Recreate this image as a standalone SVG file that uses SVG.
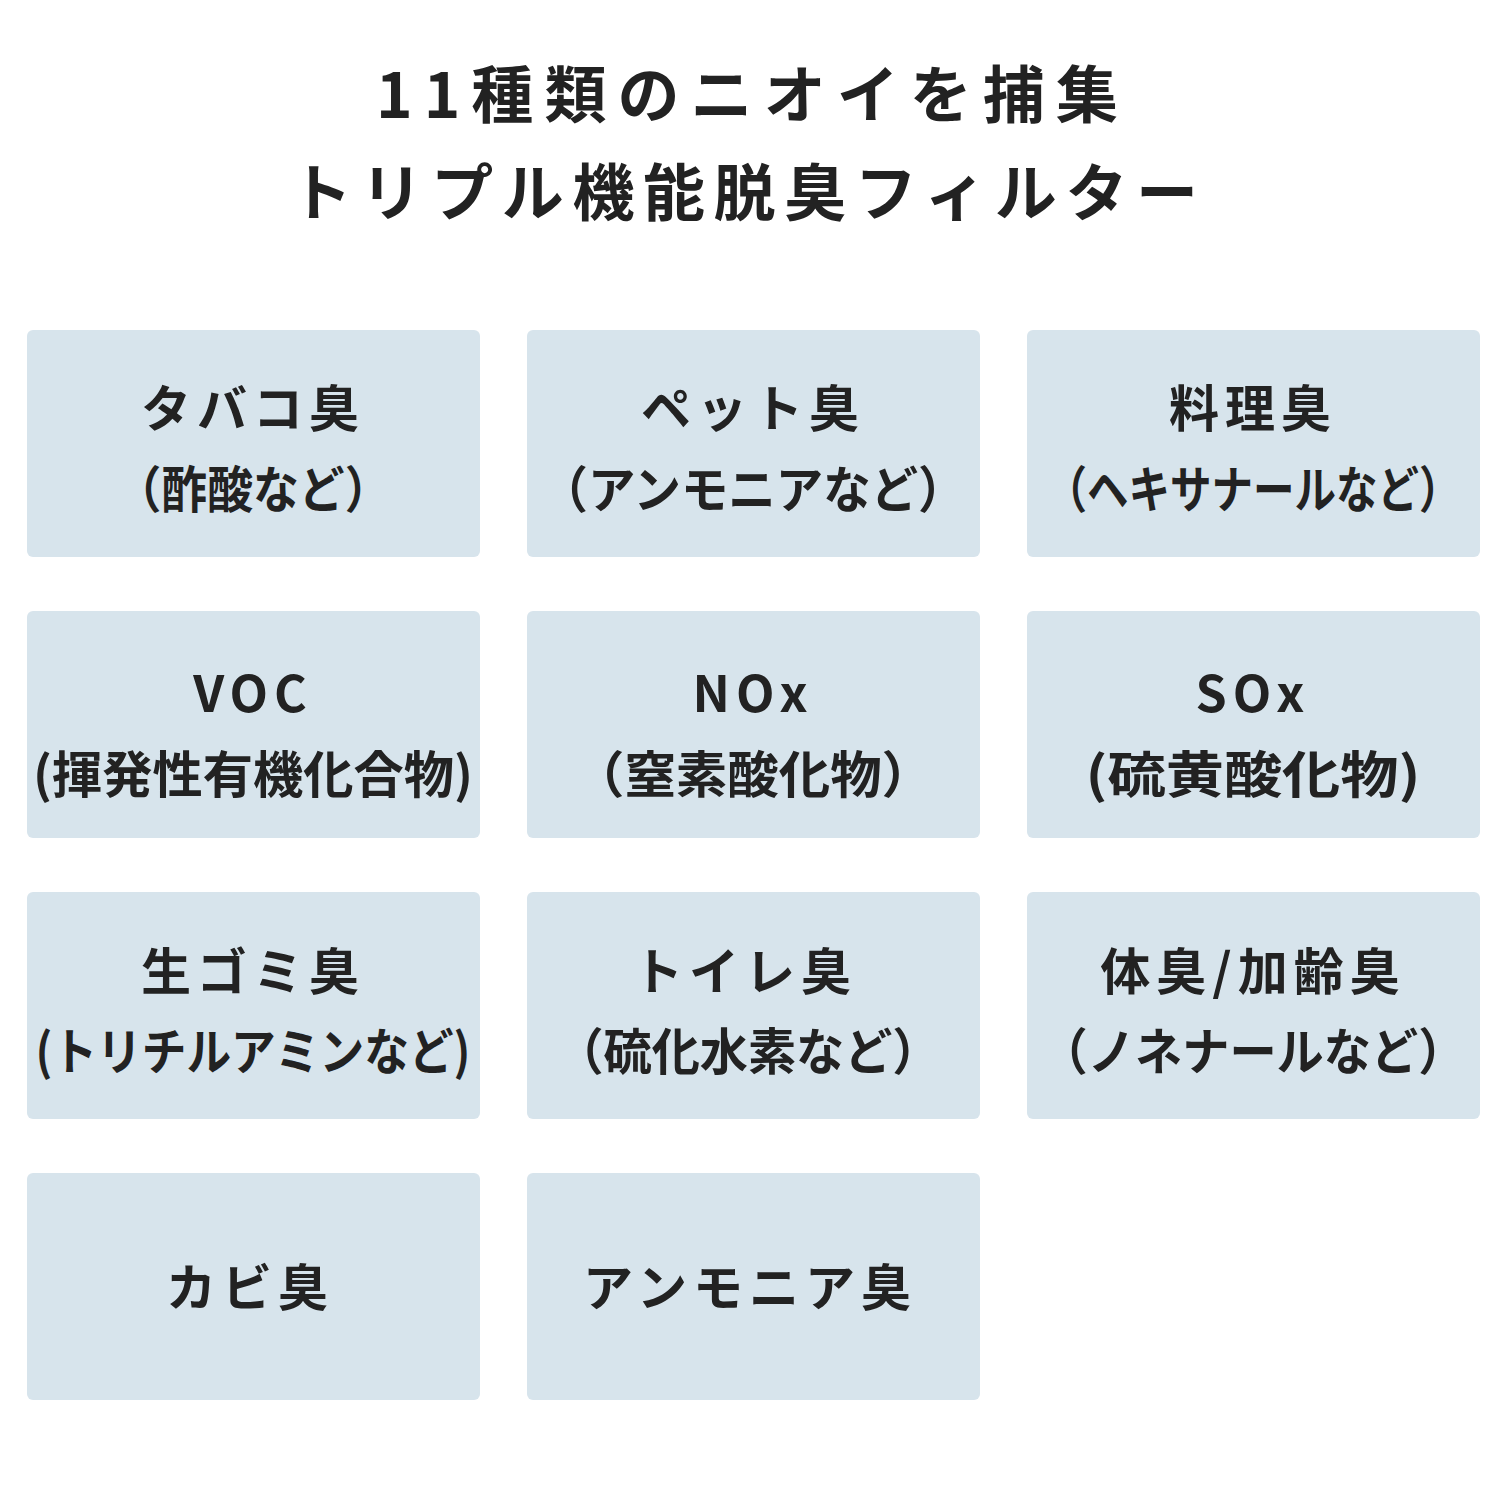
<svg xmlns="http://www.w3.org/2000/svg" width="1500" height="1500" viewBox="0 0 1500 1500">
<style>
.b{fill:#d7e4ec}
text{font-family:"Noto Sans CJK JP","Noto Sans",sans-serif;font-weight:bold;fill:#222;text-anchor:middle;font-size:50px}
.h{letter-spacing:6px}
.t{font-size:62px}
</style>
<rect width="1500" height="1500" fill="#fff"/>
<g id="title"><text class="t" x="747" y="118" textLength="742" lengthAdjust="spacing">11種類のニオイを捕集</text><text class="t" x="744" y="216" textLength="908" lengthAdjust="spacing">トリプル機能脱臭フィルター</text></g>
<g id="n1"><rect class="b" x="27" y="330" width="453" height="227" rx="6"/><text class="h" x="253" y="427">タバコ臭</text><text x="253" y="508" textLength="275" lengthAdjust="spacingAndGlyphs">（酢酸など）</text></g>
<g id="n2"><rect class="b" x="527" y="330" width="453" height="227" rx="6"/><text class="h" x="753" y="427">ペット臭</text><text x="753" y="508" textLength="425" lengthAdjust="spacingAndGlyphs">（アンモニアなど）</text></g>
<g id="n3"><rect class="b" x="1027" y="330" width="453" height="227" rx="6"/><text class="h" x="1253" y="427">料理臭</text><text x="1253" y="508" textLength="415" lengthAdjust="spacingAndGlyphs">（ヘキサナールなど）</text></g>
<g id="n4"><rect class="b" x="27" y="611" width="453" height="227" rx="6"/><text class="h" x="253" y="712">VOC</text><text x="253" y="793" textLength="440" lengthAdjust="spacingAndGlyphs">(揮発性有機化合物)</text></g>
<g id="n5"><rect class="b" x="527" y="611" width="453" height="227" rx="6"/><text class="h" x="753" y="712">NOx</text><text x="753" y="793" textLength="360" lengthAdjust="spacingAndGlyphs">（窒素酸化物）</text></g>
<g id="n6"><rect class="b" x="1027" y="611" width="453" height="227" rx="6"/><text class="h" x="1253" y="712">SOx</text><text x="1253" y="793" textLength="335" lengthAdjust="spacingAndGlyphs">(硫黄酸化物)</text></g>
<g id="n7"><rect class="b" x="27" y="892" width="453" height="227" rx="6"/><text class="h" x="253" y="990">生ゴミ臭</text><text x="253" y="1070" textLength="435" lengthAdjust="spacingAndGlyphs">(トリチルアミンなど)</text></g>
<g id="n8"><rect class="b" x="527" y="892" width="453" height="227" rx="6"/><text class="h" x="745" y="990">トイレ臭</text><text x="748" y="1070" textLength="385" lengthAdjust="spacingAndGlyphs">（硫化水素など）</text></g>
<g id="n9"><rect class="b" x="1027" y="892" width="453" height="227" rx="6"/><text class="h" x="1253" y="990">体臭/加齢臭</text><text x="1253" y="1070" textLength="425" lengthAdjust="spacingAndGlyphs">（ノネナールなど）</text></g>
<g id="n10"><rect class="b" x="27" y="1173" width="453" height="227" rx="6"/><text class="h" x="250" y="1306">カビ臭</text></g>
<g id="n11"><rect class="b" x="527" y="1173" width="453" height="227" rx="6"/><text class="h" x="750" y="1306">アンモニア臭</text></g>
<g id="connectors"/>
</svg>
